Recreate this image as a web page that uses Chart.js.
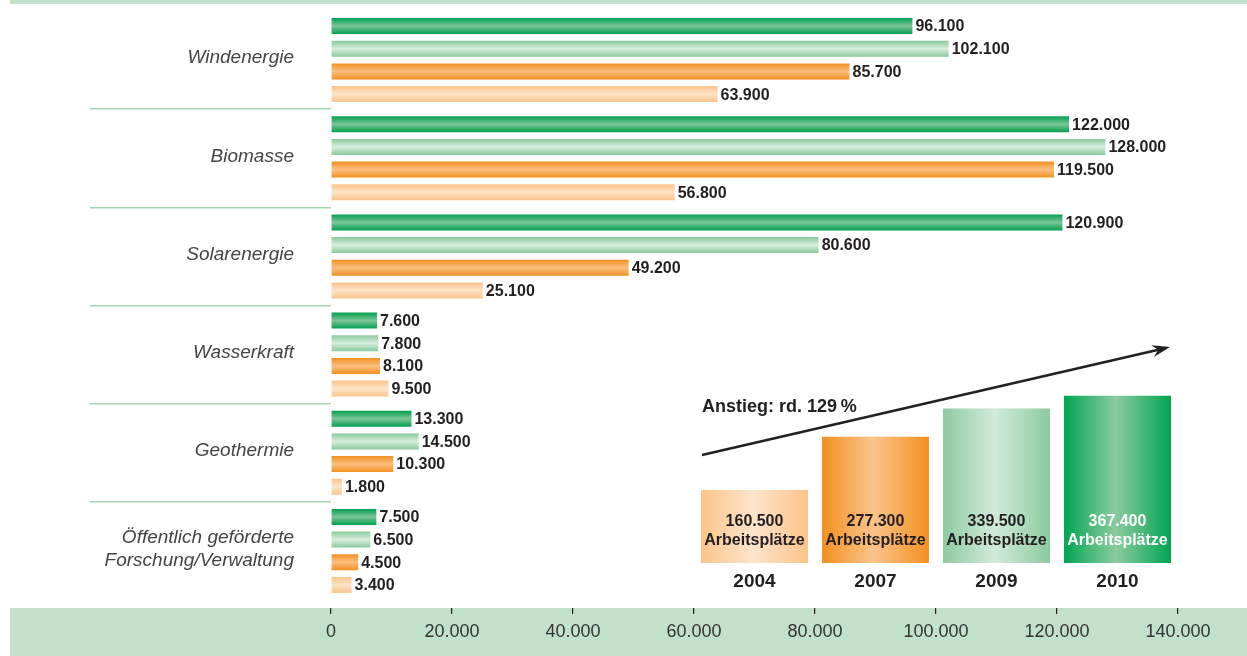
<!DOCTYPE html>
<html>
<head>
<meta charset="utf-8">
<script src="https://cdn.jsdelivr.net/npm/chart.js@4.4.0/dist/chart.umd.min.js"></script>
<style>
  body { margin: 0; background: #fff; }
  #wrap { position: relative; width: 1247px; height: 656px; }
  #main { position: absolute; left: 0; top: 0; }
  #inset { position: absolute; left: 680px; top: 330px; }
</style>
</head>
<body>
<div id="wrap">
  <canvas id="main" width="1247" height="656"></canvas>
  <canvas id="inset" width="520" height="270"></canvas>
</div>
<script>
// Arbeitsplätze nach Sparte
const categories = ['Windenergie', 'Biomasse', 'Solarenergie', 'Wasserkraft', 'Geothermie',
    ['Öffentlich geförderte', 'Forschung/Verwaltung']];
const jobs2010 = [96100, 122000, 120900, 7600, 13300, 7500];
const jobs2009 = [102100, 128000, 80600, 7800, 14500, 6500];
const jobs2007 = [85700, 119500, 49200, 8100, 10300, 4500];
const jobs2004 = [63900, 56800, 25100, 9500, 1800, 3400];
const xTicks = [0, 20000, 40000, 60000, 80000, 100000, 120000, 140000];

// Gesamt
const totalYears = ['2004', '2007', '2009', '2010'];
const totalJobs = [160500, 277300, 339500, 367400];
const increaseText = 'Anstieg: rd. 129\u202f%';

const FONT = "'Liberation Sans', Arial, Helvetica, sans-serif";
const DARK = '#231f20';
const BAND = '#c3e0ca';

function fmt(v) {
    return String(v).replace(/\B(?=(\d{3})+(?!\d))/g, '.');
}

// gradient bars: edge colour -> light middle -> edge colour
function shadeBars(chart, horizontalStripes) {
    const ctx = chart.ctx;
    chart.data.datasets.forEach((ds, i) => {
        chart.getDatasetMeta(i).data.forEach((bar, j) => {
            const edge = Array.isArray(ds.edge) ? ds.edge[j] : ds.edge;
            const mid = Array.isArray(ds.mid) ? ds.mid[j] : ds.mid;
            let g;
            if (horizontalStripes) {
                const top = bar.y - bar.height / 2;
                g = ctx.createLinearGradient(0, top, 0, top + bar.height);
                g.addColorStop(0, edge);
                g.addColorStop(0.5, mid);
                g.addColorStop(1, edge);
            } else {
                const left = bar.x - bar.width / 2;
                g = ctx.createLinearGradient(left, 0, left + bar.width, 0);
                g.addColorStop(0, edge);
                g.addColorStop(0.48, mid);
                g.addColorStop(1, edge);
            }
            bar.options = Object.assign({}, bar.options, { backgroundColor: g });
        });
    });
}

const mainPlugin = {
    id: 'mainDecor',
    beforeDraw(chart) {
        const ctx = chart.ctx;
        ctx.save();
        ctx.fillStyle = '#fff';
        ctx.fillRect(0, 0, chart.width, chart.height);
        ctx.fillStyle = BAND;
        ctx.fillRect(10, 0, chart.width - 10, 4);
        ctx.fillRect(10, chart.chartArea.bottom + 8, chart.width - 10, chart.height);
        ctx.restore();
    },
    beforeDatasetsDraw(chart) {
        shadeBars(chart, true);
    },
    afterDatasetsDraw(chart) {
        const ctx = chart.ctx;
        ctx.save();
        ctx.font = 'bold 16px ' + FONT;
        ctx.fillStyle = DARK;
        ctx.textAlign = 'left';
        ctx.textBaseline = 'middle';
        chart.data.datasets.forEach((ds, i) => {
            chart.getDatasetMeta(i).data.forEach((bar, j) => {
                ctx.fillText(fmt(ds.data[j]), bar.x + 3, bar.y + 1);
            });
        });
        ctx.restore();
    },
    afterDraw(chart) {
        // white gap between plot and the axis band
        const ctx = chart.ctx;
        ctx.save();
        ctx.fillStyle = '#fff';
        ctx.fillRect(chart.chartArea.left - 5, chart.chartArea.bottom, chart.chartArea.width + 10, 8);
        ctx.restore();
    }
};

new Chart(document.getElementById('main'), {
    type: 'bar',
    data: {
        labels: categories,
        datasets: [
            { label: '2010', data: jobs2010, edge: '#00a04f', mid: '#7cc596' },
            { label: '2009', data: jobs2009, edge: '#8ac99d', mid: '#d8eedd' },
            { label: '2007', data: jobs2007, edge: '#f39020', mid: '#fbbf80' },
            { label: '2004', data: jobs2004, edge: '#fbc48a', mid: '#fee3c6' }
        ]
    },
    options: {
        responsive: false,
        animation: false,
        indexAxis: 'y',
        categoryPercentage: 0.924,
        barPercentage: 0.705,
        layout: { padding: { left: 0, top: 11, right: 69, bottom: 0 } },
        plugins: { legend: { display: false }, tooltip: { enabled: false } },
        scales: {
            x: {
                min: 0,
                max: 140000,
                afterBuildTicks: s => { s.ticks = xTicks.map(v => ({ value: v })); },
                afterFit: s => { s.height = 56; },
                border: { display: false },
                grid: { drawOnChartArea: false, drawTicks: true, tickLength: 14, tickColor: DARK, lineWidth: 1.2 },
                ticks: {
                    callback: v => fmt(v),
                    font: { family: FONT, size: 18 },
                    color: '#333',
                    padding: 7,
                    maxRotation: 0
                }
            },
            y: {
                afterFit: s => { s.width = 331; },
                border: { display: false },
                grid: {
                    offset: true,
                    drawOnChartArea: false,
                    drawTicks: true,
                    tickLength: 241,
                    lineWidth: 1.5,
                    tickColor: c => (c.index > 0 ? '#a6d5b3' : 'rgba(0,0,0,0)')
                },
                ticks: {
                    font: { family: FONT, size: 19, style: 'italic', lineHeight: 1.2 },
                    color: '#444',
                    padding: -204,
                    labelOffset: -2
                }
            }
        }
    },
    plugins: [mainPlugin]
});

const insetPlugin = {
    id: 'insetDecor',
    beforeDatasetsDraw(chart) {
        shadeBars(chart, false);
    },
    afterDatasetsDraw(chart) {
        const ctx = chart.ctx;
        const area = chart.chartArea;
        ctx.save();
        ctx.font = 'bold 16px ' + FONT;
        ctx.textAlign = 'center';
        ctx.textBaseline = 'middle';
        const ds = chart.data.datasets[0];
        chart.getDatasetMeta(0).data.forEach((bar, j) => {
            ctx.fillStyle = j === ds.data.length - 1 ? '#fff' : DARK;
            ctx.fillText(fmt(ds.data[j]), bar.x, bar.base - 41);
            ctx.fillText('Arbeitsplätze', bar.x, bar.base - 22);
        });

        // arrow
        const x1 = area.left + 8, y1 = area.bottom - 108;
        const x2 = area.right - 8, y2 = area.top - 34;
        const ang = Math.atan2(y2 - y1, x2 - x1);
        ctx.strokeStyle = DARK;
        ctx.fillStyle = DARK;
        ctx.lineWidth = 2.5;
        ctx.beginPath();
        ctx.moveTo(x1, y1);
        ctx.lineTo(x2 - 12 * Math.cos(ang), y2 - 12 * Math.sin(ang));
        ctx.stroke();
        ctx.beginPath();
        ctx.moveTo(x2, y2);
        ctx.lineTo(x2 - 18 * Math.cos(ang) + 6 * Math.sin(ang), y2 - 18 * Math.sin(ang) - 6 * Math.cos(ang));
        ctx.lineTo(x2 - 12 * Math.cos(ang), y2 - 12 * Math.sin(ang));
        ctx.lineTo(x2 - 18 * Math.cos(ang) - 6 * Math.sin(ang), y2 - 18 * Math.sin(ang) + 6 * Math.cos(ang));
        ctx.closePath();
        ctx.fill();

        ctx.font = 'bold 18px ' + FONT;
        ctx.textAlign = 'left';
        ctx.textBaseline = 'alphabetic';
        ctx.fillText(increaseText, area.left + 8, area.top + 31);
        ctx.restore();
    }
};

new Chart(document.getElementById('inset'), {
    type: 'bar',
    data: {
        labels: totalYears,
        datasets: [{
            data: totalJobs,
            edge: ['#fbc48a', '#f39020', '#8ccb9f', '#00a651'],
            mid: ['#fde4ca', '#fbc48a', '#d3eada', '#8ccb9f']
        }]
    },
    options: {
        responsive: false,
        animation: false,
        categoryPercentage: 1,
        barPercentage: 0.884,
        layout: { padding: { left: 14, top: 51, right: 22, bottom: 0 } },
        plugins: { legend: { display: false }, tooltip: { enabled: false } },
        scales: {
            x: {
                afterFit: s => { s.height = 37; },
                border: { display: false },
                grid: { display: false, drawTicks: false },
                ticks: { font: { family: FONT, size: 19, weight: 'bold' }, color: DARK, padding: 7 }
            },
            y: { display: false, min: 0, max: 400000 }
        }
    },
    plugins: [insetPlugin]
});
</script>
</body>
</html>
